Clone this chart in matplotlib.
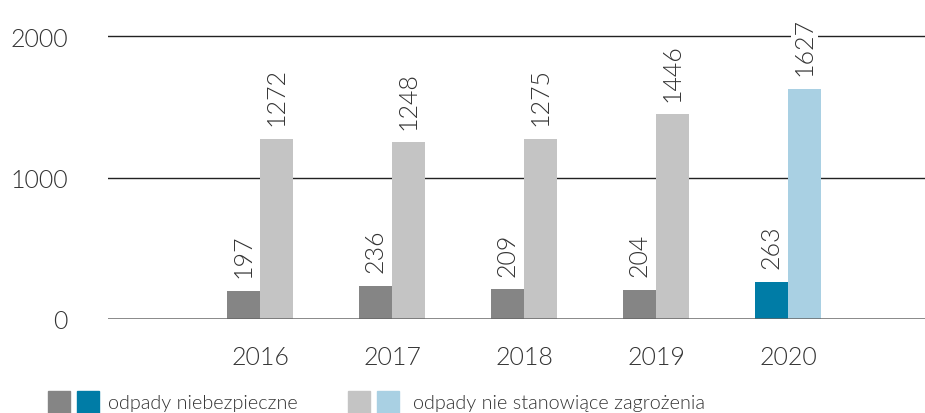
import matplotlib.pyplot as plt
import numpy as np

plt.rcParams['font.family'] = ['Lato', 'DejaVu Sans']
plt.rcParams['font.weight'] = 300

years = ['2016', '2017', '2018', '2019', '2020']
hazardous = [197, 236, 209, 204, 263]
non_hazardous = [1272, 1248, 1275, 1446, 1627]

dark_grey = '#858585'
light_grey = '#c4c4c4'
blue = '#007ca6'
light_blue = '#a9d0e3'
text_color = '#333333'

fig = plt.figure(figsize=(9.25, 4.14), dpi=100)
ax = fig.add_axes([108 / 925, 94 / 414, 817 / 925, 320 / 414])

x = np.arange(len(years))
w = 0.25
c_dark = [dark_grey] * 4 + [blue]
c_light = [light_grey] * 4 + [light_blue]

b1 = ax.bar(x - w / 2, hazardous, w, color=c_dark, zorder=3)
b2 = ax.bar(x + w / 2, non_hazardous, w, color=c_light, zorder=3)

for bars, vals in [(b1, hazardous), (b2, non_hazardous)]:
    for bar, v in zip(bars, vals):
        ax.annotate(str(v), (bar.get_x() + bar.get_width() / 2, v),
                    xytext=(0, 10), textcoords='offset points',
                    rotation=90, ha='center', va='bottom',
                    fontsize=18, color=text_color,
                    bbox=dict(facecolor='white', edgecolor='none', pad=1),
                    zorder=5)

for y in [1000, 2000]:
    ax.axhline(y, color='#222222', linewidth=1.0, zorder=1)
ax.axhline(0, color='#666666', linewidth=1.8, zorder=4)

ax.set_xlim(-1.152, 5.038)
ax.set_ylim(0, 2262)
ax.set_yticks([0, 1000, 2000])
ax.set_xticks(x)
ax.set_xticklabels(years)
ax.tick_params(axis='y', length=0, pad=29, labelsize=18, labelcolor=text_color)
ax.tick_params(axis='x', length=0, pad=19, labelsize=18, labelcolor=text_color)
for s in ax.spines.values():
    s.set_visible(False)

# legend drawn with figure-level patches
def legend_square(px, color):
    fig.patches.append(plt.Rectangle((px / 925, 0), 22 / 925, 22 / 414,
                                     transform=fig.transFigure, color=color))

legend_square(48, dark_grey)
legend_square(77, blue)
fig.text(108 / 925, 10 / 414, 'odpady niebezpieczne', fontsize=14.3,
         color=text_color, va='center')
legend_square(348, light_grey)
legend_square(377, light_blue)
fig.text(413 / 925, 10 / 414, 'odpady nie stanowiące zagrożenia', fontsize=14.3,
         color=text_color, va='center')

fig.savefig('out.png', dpi=100)
